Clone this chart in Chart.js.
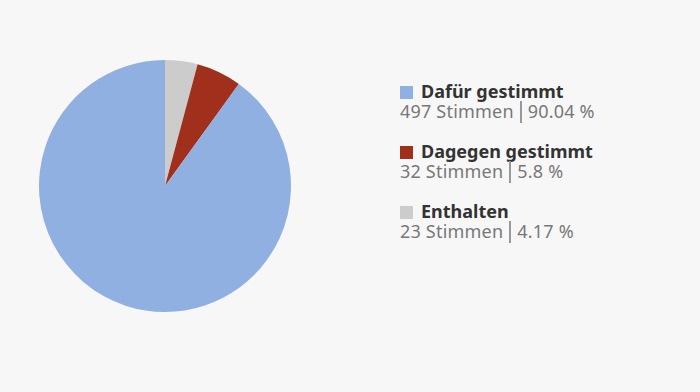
<!DOCTYPE html>
<html>
<head>
<meta charset="utf-8">
<script src="https://cdn.jsdelivr.net/npm/chart.js@4"></script>
<style>
  body { margin: 0; background: #f7f7f7; font-family: "Noto Sans", sans-serif; }
  #wrap { position: relative; width: 700px; height: 392px; }
  #pie { position: absolute; left: 39px; top: 60px; width: 252px; height: 252px; }
  #legend { position: absolute; left: 400px; top: 81px; }
  .item { height: 40px; margin-bottom: 20px; }
  .head { font-weight: bold; color: #333; font-size: 18px; line-height: 20px; }
  .sw { display: inline-block; width: 13px; height: 13px; margin-right: 8px; vertical-align: -1px; }
  .sub { color: #777; font-size: 18px; line-height: 20px; letter-spacing: 0.2px; }
  .sep { display: inline-block; width: 2px; height: 22px; background: #999; margin: 0 6px; vertical-align: -5px; }
</style>
</head>
<body>
<div id="wrap">
  <div id="pie"><canvas id="myChart"></canvas></div>
  <div id="legend"></div>
</div>
<script>
// Categories and values as in the legend
var labels = ["Dafür gestimmt", "Dagegen gestimmt", "Enthalten"];
var votes = [497, 32, 23];
var percent = ["90.04", "5.8", "4.17"];
var colors = ["#8fb0e0", "#a0301c", "#cccccc"];

// the pie runs the other way round, starting with Enthalten at the top
var pieLabels = labels.slice().reverse();
var pieVotes = votes.slice().reverse();
var pieColors = colors.slice().reverse();

var ctx = document.getElementById("myChart");
var myChart = new Chart(ctx, {
  type: 'pie',
  data: {
    labels: pieLabels,
    datasets: [{
      data: pieVotes,
      backgroundColor: pieColors,
      borderWidth: 0
    }]
  },
  options: {
    responsive: true,
    maintainAspectRatio: false,
    animation: false,
    plugins: {
      legend: { display: false },
      tooltip: { enabled: false }
    }
  }
});

// legend with two lines per entry
var html = "";
for (var i = 0; i < labels.length; i++) {
  html += '<div class="item">' +
    '<div class="head"><span class="sw" style="background:' + colors[i] + '"></span>' + labels[i] + '</div>' +
    '<div class="sub">' + votes[i] + ' Stimmen<span class="sep"></span>' + percent[i] + ' %</div>' +
    '</div>';
}
document.getElementById("legend").innerHTML = html;
</script>
</body>
</html>
